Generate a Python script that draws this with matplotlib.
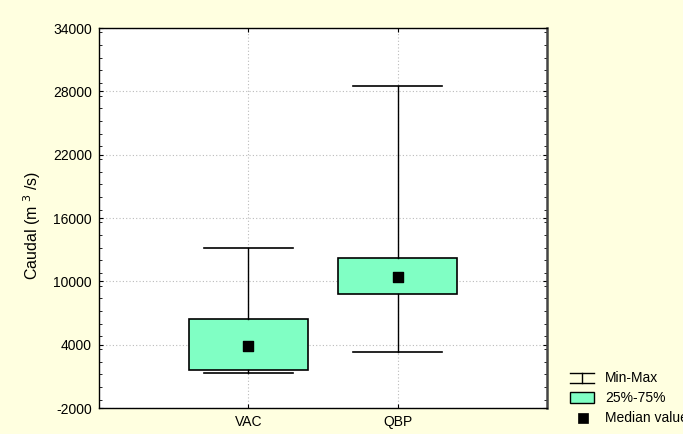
import matplotlib
matplotlib.use("Agg")
import matplotlib.pyplot as plt
from matplotlib.ticker import MultipleLocator
from matplotlib.lines import Line2D
from matplotlib.patches import Rectangle

plt.rcParams['font.family'] = ['Liberation Sans', 'DejaVu Sans']

categories = ["VAC", "QBP"]
minimum = [1300, 3300]
q1 = [1560, 8800]
median = [3900, 10400]
q3 = [6400, 12250]
maximum = [13200, 28500]

y_ticks = [-2000, 4000, 10000, 16000, 22000, 28000, 34000]

box_color = "#80FFC4"
bg_color = "#FFFFE0"

fig = plt.figure(figsize=(6.83, 4.34), dpi=100, facecolor=bg_color)
ax = fig.add_axes([99 / 683, 26 / 434, 448 / 683, 380 / 434])
ax.set_facecolor("white")

positions = list(range(1, len(categories) + 1))
stats = [dict(med=m, q1=a, q3=b, whislo=lo, whishi=hi, label=c)
         for c, lo, a, m, b, hi in zip(categories, minimum, q1, median, q3, maximum)]
ax.bxp(stats, positions=positions, widths=0.8, showfliers=False, patch_artist=True,
       boxprops=dict(facecolor=box_color, edgecolor="black", linewidth=1.2),
       whiskerprops=dict(color="black", linewidth=1.0),
       capprops=dict(color="black", linewidth=1.2),
       medianprops=dict(linewidth=0),
       capwidths=0.6, zorder=3)
ax.scatter(positions, median, marker="s", s=55, color="black", zorder=4)

ax.set_xlim(0, len(categories) + 1)
ax.set_ylim(-2000, 34000)
ax.set_xticks(positions)
ax.set_xticklabels(categories)
ax.set_yticks(y_ticks)
ax.set_yticklabels([str(v) for v in y_ticks])
ax.yaxis.set_minor_locator(MultipleLocator(1200))
ax.grid(True, which="major", linestyle=(0, (1, 2)), color="#bbbbbb", linewidth=0.8, zorder=0)
ax.set_axisbelow(True)
ax.tick_params(axis="both", which="major", labelsize=10, direction="in", length=3,
               right=True, top=True, pad=5)
ax.tick_params(axis="y", which="minor", direction="in", length=2, right=True, left=True)
for s in ax.spines.values():
    s.set_linewidth(1.0)
ax.spines["right"].set_linewidth(1.8)
ax.spines["right"].set_color("#444444")
ax.set_ylabel("Caudal (m $^{3}$ /s)", fontsize=11.5)
ax.yaxis.set_label_coords(-0.125, 0.48)

# legend drawn outside the plotting area
def fx(px):
    return px / 683

def fy(py):
    return 1 - py / 434

fig.add_artist(Line2D([fx(570), fx(594)], [fy(372.7), fy(372.7)], color="black", lw=1))
fig.add_artist(Line2D([fx(570), fx(594)], [fy(383.3), fy(383.3)], color="black", lw=1))
fig.add_artist(Line2D([fx(582), fx(582)], [fy(372.7), fy(383.3)], color="black", lw=1))
fig.add_artist(Rectangle((fx(570), fy(403)), fx(24), 11 / 434, facecolor=box_color,
                         edgecolor="black", lw=1))
fig.add_artist(Rectangle((fx(578), fy(423)), fx(10), 10 / 434, facecolor="black",
                         edgecolor="black", lw=0.5))
for text, py in [("Min-Max", 378), ("25%-75%", 397.5), ("Median value", 418)]:
    fig.text(fx(605), fy(py), text, fontsize=10, va="center", ha="left")

fig.savefig("out.png", dpi=100, facecolor=bg_color)
